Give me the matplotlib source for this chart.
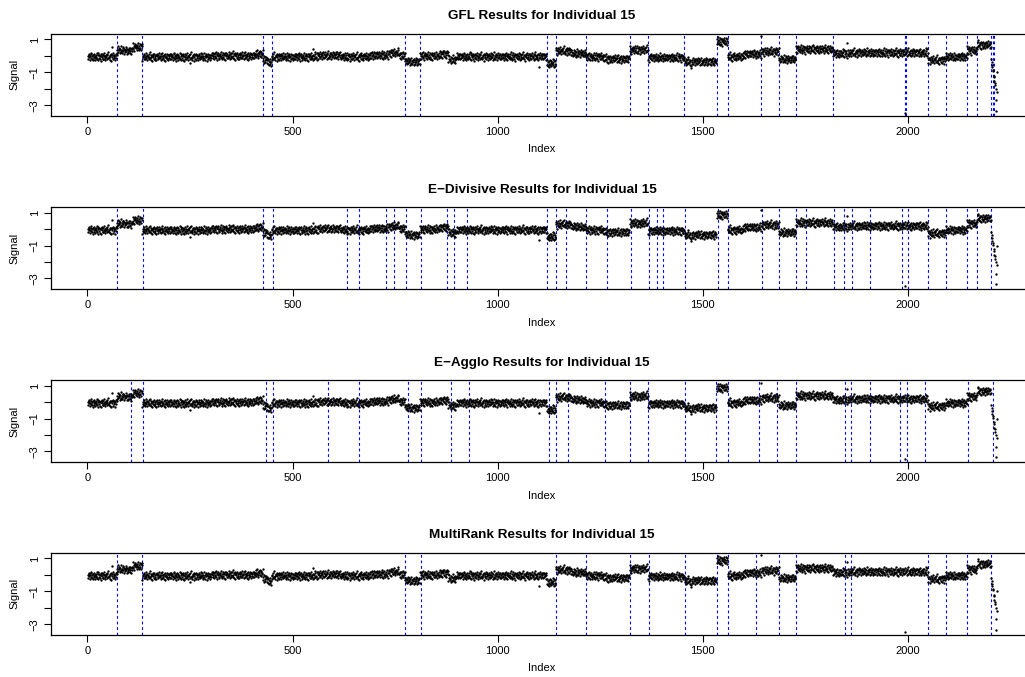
import numpy as np
import matplotlib
matplotlib.use("Agg")
import matplotlib.pyplot as plt

plt.rcParams["font.family"] = ["Liberation Sans", "DejaVu Sans"]

# --- signal: piecewise levels + typed jitter pattern ---
seg_start = [1, 72, 95, 110, 134, 300, 410, 428, 440, 450, 560, 620, 690, 735,
             760, 775, 811, 860, 880, 900, 1120, 1142, 1180, 1215, 1260, 1322,
             1367, 1455, 1534, 1561, 1600, 1643, 1686, 1727, 1817, 1860, 2049,
             2092, 2144, 2169]
seg_level = [-0.05, 0.35, 0.30, 0.55, -0.06, 0.00, 0.12, -0.20, -0.40, -0.06,
             0.03, -0.05, 0.05, 0.18, 0.05, -0.35, 0.00, 0.12, -0.22, -0.04,
             -0.45, 0.30, 0.15, -0.05, -0.18, 0.37, -0.10, -0.35, 0.88, -0.05,
             0.12, 0.27, -0.20, 0.40, 0.15, 0.20, -0.25, -0.05, 0.33, 0.67]
jitter = [0.07, -0.12, 0.18, -0.03, 0.10, -0.20, 0.02, 0.15, -0.08, 0.22,
          -0.15, 0.05, -0.23, 0.12, -0.02, 0.17, -0.10, 0.03, -0.18, 0.13,
          0.00, -0.07, 0.25, -0.13, 0.08, -0.22, 0.20, -0.05, 0.12, -0.17,
          0.03, 0.15, -0.26, 0.07, -0.03, 0.18, -0.12, 0.10, -0.15, 0.02,
          0.23, -0.08, 0.05, -0.20, 0.13, -0.02, 0.08, -0.13, 0.17, -0.07,
          0.28, -0.10, 0.00, -0.18, 0.12, 0.05, -0.25, 0.15, -0.03, 0.10,
          -0.12, 0.20, -0.17, 0.07, -0.05, 0.13, -0.22, 0.03, 0.18, -0.08,
          0.10, -0.15, 0.02, 0.22, -0.10, 0.05, -0.02, 0.15, -0.20, 0.08,
          -0.13, 0.25, -0.07, 0.03, -0.17, 0.12, -0.03, 0.17, -0.23, 0.07,
          0.00, -0.12, 0.20, -0.05, 0.10, -0.18, 0.13, -0.08, 0.05, -0.15, 0.18]
tail_idx = list(range(2203, 2219))
tail_val = [-0.20, -0.35, -0.55, -0.70, -0.95, -0.85, -1.20, -1.55, -1.30,
            -1.80, -1.65, -2.00, -2.70, -3.35, -2.20, -1.00]
outlier_idx = [61, 249, 350, 551, 1101, 1472, 1643, 1852, 1992]
outlier_val = [0.53, -0.45, 0.20, 0.40, -0.65, -0.75, 1.18, 0.78, -3.47]

# --- change points found by each method ---
titles = ["GFL Results for Individual 15",
          "E\u2212Divisive Results for Individual 15",
          "E\u2212Agglo Results for Individual 15",
          "MultiRank Results for Individual 15"]
cp_gfl = [72, 134, 428, 450, 775, 811, 1120, 1142, 1215, 1322, 1367, 1455,
          1534, 1561, 1643, 1686, 1727, 1817, 1993, 1996, 2049, 2092, 2144,
          2169, 2203, 2207, 2211]
cp_edivisive = [72, 135, 429, 452, 634, 662, 728, 748, 777, 812, 877, 893, 925,
                1121, 1143, 1167, 1216, 1267, 1324, 1369, 1388, 1402, 1457,
                1536, 1562, 1644, 1687, 1728, 1751, 1820, 1845, 1863, 1907,
                1985, 2001, 2049, 2092, 2144, 2168, 2202]
cp_eagglo = [106, 136, 435, 452, 586, 661, 781, 812, 886, 931, 1125, 1142,
             1171, 1262, 1323, 1367, 1456, 1532, 1562, 1637, 1681, 1727, 1847,
             1862, 1907, 1981, 1997, 2042, 2147, 2207]
cp_multirank = [72, 134, 773, 812, 1142, 1216, 1322, 1368, 1456, 1535, 1562,
                1630, 1686, 1727, 1846, 1861, 2049, 2092, 2144, 2203]
changepoints = [cp_gfl, cp_edivisive, cp_eagglo, cp_multirank]

# assemble the series
lengths = np.diff(np.array(seg_start + [tail_idx[0]]))
base = np.repeat(seg_level, lengths)
signal = base + np.resize(jitter, base.size)
signal = np.concatenate([signal, tail_val])
index = np.arange(1, signal.size + 1)
for i, v in zip(outlier_idx, outlier_val):
    signal[i - 1] = v

# --- figure ---
W, H = 1025, 677
fig = plt.figure(figsize=(W / 100, H / 100), dpi=100)
tops = [34, 207.3, 380.3, 553]
ax_h = 81.7
left, right = 51, 1033

for k in range(4):
    ax = fig.add_axes([left / W, 1 - (tops[k] + ax_h) / H,
                       (right - left) / W, ax_h / H])
    ax.plot(index, signal, "o", ms=1.7, mew=0, color="black", zorder=3)
    for cp in changepoints[k]:
        ax.axvline(cp, color="#0000FF", lw=0.8, ls=(0, (2.5, 2.5)), zorder=2)

    ax.set_xlim(-88.7, 2305)
    ax.set_ylim(-3.64, 1.33)
    ax.set_xticks([0, 500, 1000, 1500, 2000])
    ax.set_xticklabels(["0", "500", "1000", "1500", "2000"])
    ax.set_yticks([-3, -2, -1, 0, 1])
    ax.set_yticklabels(["\u22123", "", "\u22121", "", "1"], rotation=90,
                       va="center")
    ax.tick_params(labelsize=8, length=5, width=0.8, pad=3, direction="out",
                   color="black")
    for s in ax.spines.values():
        s.set_linewidth(0.9)

    ax.set_title(titles[k], fontsize=9.7, fontweight="bold", pad=10.5)
    ax.set_xlabel("Index", fontsize=8)
    ax.xaxis.set_label_coords(0.5, -0.35)
    ax.set_ylabel("Signal", fontsize=8)
    ax.yaxis.set_label_coords(-0.0326, 0.5)

fig.savefig("out.png", dpi=100)
